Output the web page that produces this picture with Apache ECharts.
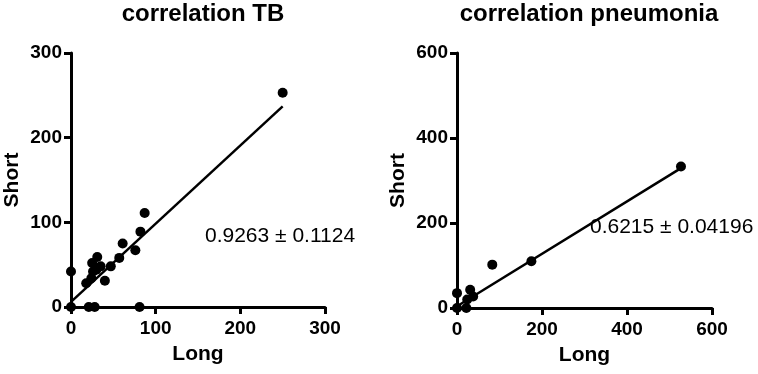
<!DOCTYPE html>
<html>
<head>
<meta charset="utf-8">
<script src="https://cdn.jsdelivr.net/npm/echarts@6/dist/echarts.min.js"></script>
<style>
  html, body { margin: 0; padding: 0; background: #fff; }
  #main { width: 758px; height: 374px; }
</style>
</head>
<body>
<div id="main"></div>
<script>
// TB: [long, short]
var tbPoints = [
  [0, 0], [0, 42], [21, 0], [28, 0], [81, 0],
  [18, 28], [24, 34], [26, 42], [25, 52], [31, 59], [35, 48], [30, 44],
  [40, 31], [47, 48], [57, 58], [61, 75], [76, 67], [82, 89], [87, 111],
  [250, 253]
];
var tbFit = [[0, 6], [250, 237]];
var tbText = '0.9263 ± 0.1124';

// pneumonia: [long, short]
var pnPoints = [
  [0, 0], [0, 35], [22, 0], [24, 20], [31, 43], [38, 27],
  [83, 102], [175, 110], [527, 333]
];
var pnFit = [[0, 4], [527, 329]];
var pnText = '0.6215 ± 0.04196';

var titles = ['correlation TB', 'correlation pneumonia'];
var axisMax = [300, 600];
var axisStep = [100, 200];

var font = 'Liberation Sans, Arial, sans-serif';
var chart = echarts.init(document.getElementById('main'));

function xAx(i) {
  return {
    gridIndex: i, type: 'value', min: 0, max: axisMax[i], interval: axisStep[i],
    name: 'Long', nameLocation: 'middle', nameGap: 37,
    nameTextStyle: { color: '#000', fontSize: 21, fontWeight: 'bold', fontFamily: font },
    axisLine: { onZero: false, lineStyle: { color: '#000', width: 3 } },
    axisTick: { show: true, length: 7, lineStyle: { color: '#000', width: 3 } },
    axisLabel: { color: '#000', fontSize: 19, fontWeight: 'bold', fontFamily: font, margin: 12 },
    splitLine: { show: false }
  };
}
function yAx(i) {
  return {
    gridIndex: i, type: 'value', min: 0, max: axisMax[i], interval: axisStep[i],
    name: 'Short', nameLocation: 'middle', nameGap: 48,
    nameTextStyle: { color: '#000', fontSize: 21, fontWeight: 'bold', fontFamily: font },
    axisLine: { onZero: false, lineStyle: { color: '#000', width: 3 } },
    axisTick: { show: true, length: 7, lineStyle: { color: '#000', width: 3 } },
    axisLabel: { color: '#000', fontSize: 19, fontWeight: 'bold', fontFamily: font, margin: 9 },
    splitLine: { show: false }
  };
}

var option = {
  backgroundColor: '#fff',
  animation: false,
  title: [
    { text: titles[0], left: 198, top: -3, textAlign: 'center',
      textStyle: { fontSize: 24, fontWeight: 'bold', color: '#000', fontFamily: font } },
    { text: titles[1], left: 584, top: -3, textAlign: 'center',
      textStyle: { fontSize: 24, fontWeight: 'bold', color: '#000', fontFamily: font } }
  ],
  grid: [
    { left: 71, top: 53, width: 254, height: 254 },
    { left: 457, top: 53, width: 255, height: 255 }
  ],
  xAxis: [xAx(0), xAx(1)],
  yAxis: [yAx(0), yAx(1)],
  graphic: [
    { type: 'text', left: 205, top: 226,
      style: { text: tbText, fill: '#000', font: '21px ' + font } },
    { type: 'text', left: 590, top: 217,
      style: { text: pnText, fill: '#000', font: '21px ' + font } }
  ],
  series: [
    { type: 'line', xAxisIndex: 0, yAxisIndex: 0, data: tbFit, symbol: 'none',
      lineStyle: { color: '#000', width: 2.5 }, z: 2 },
    { type: 'scatter', xAxisIndex: 0, yAxisIndex: 0, data: tbPoints, symbolSize: 10,
      itemStyle: { color: '#000', opacity: 1 }, z: 3 },
    { type: 'line', xAxisIndex: 1, yAxisIndex: 1, data: pnFit, symbol: 'none',
      lineStyle: { color: '#000', width: 2.5 }, z: 2 },
    { type: 'scatter', xAxisIndex: 1, yAxisIndex: 1, data: pnPoints, symbolSize: 10,
      itemStyle: { color: '#000', opacity: 1 }, z: 3 }
  ]
};
chart.setOption(option);
</script>
</body>
</html>
